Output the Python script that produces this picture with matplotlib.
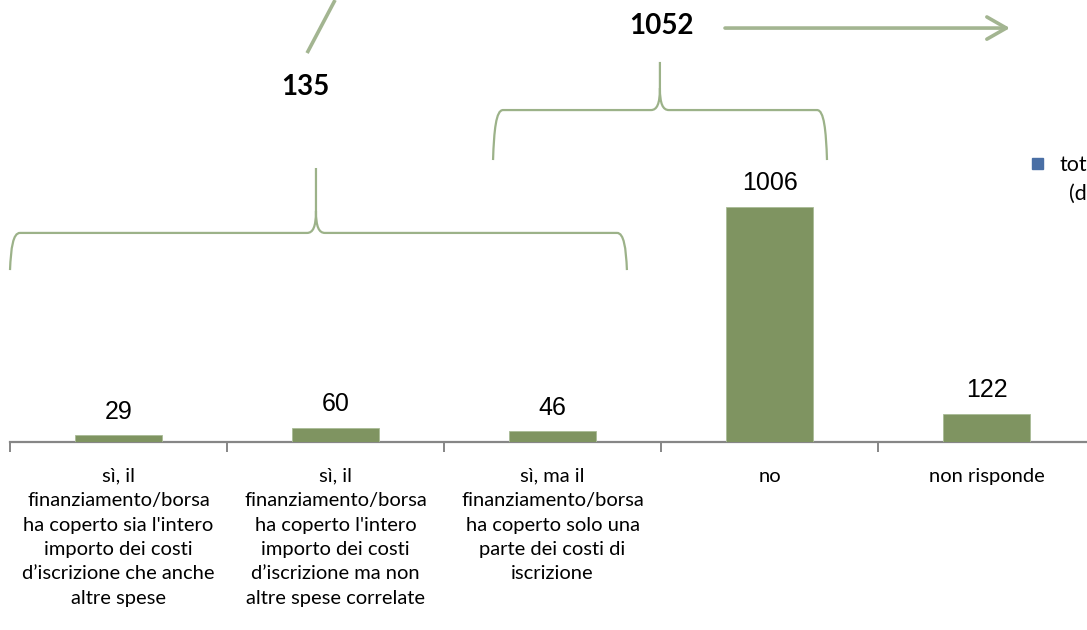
import matplotlib.pyplot as plt
import numpy as np
from matplotlib.path import Path
from matplotlib.patches import PathPatch, Rectangle

categories = ["sì, il\nfinanziamento/borsa\nha coperto sia l'intero\nimporto dei costi\nd’iscrizione che anche\naltre spese",
              "sì, il\nfinanziamento/borsa\nha coperto l'intero\nimporto dei costi\nd’iscrizione ma non\naltre spese correlate",
              "sì, ma il\nfinanziamento/borsa\nha coperto solo una\nparte dei costi di\niscrizione",
              "no",
              "non risponde"]
values = [29, 60, 46, 1006, 122]
group_yes = sum(values[:3])        # 135
group_no = values[3] + values[2]   # 1052 (as in the original chart)
legend_label = ["totale", "(dati"]

bar_col = "#7F9461"
deco_col = "#9CB289"
axis_col = "#868686"

fig = plt.figure(figsize=(10.87, 6.30), dpi=100)
# axis: 5 categories, 217 px each, starting at x=10 px; base line at y=442 px
ax = fig.add_axes([10 / 1087, 188 / 630, 1085 / 1087, 1200 * 0.2336 / 630])
x = np.arange(len(values))
ax.bar(x, values, width=0.4, color=bar_col, edgecolor="#A9BB97", linewidth=0.6, zorder=3)
ax.set_xlim(-0.5, 4.5)
ax.set_ylim(0, 1200)

for s in ["top", "left", "right"]:
    ax.spines[s].set_visible(False)
ax.spines["bottom"].set_color(axis_col)
ax.spines["bottom"].set_linewidth(1.6)
ax.set_yticks([])
ax.set_xticks(x)
ax.set_xticklabels(categories, fontsize=14.5, family="Lato", linespacing=1.53, va="top")
ax.tick_params(axis="x", which="major", length=0, pad=18.5)
ax.set_xticks(np.arange(-0.5, 5, 1), minor=True)
ax.tick_params(axis="x", which="minor", length=7, width=1.4, color=axis_col, direction="out")

for xi, v in zip(x, values):
    ax.annotate(str(v), (xi, v), xytext=(0, 12), textcoords="offset points",
                ha="center", va="baseline", fontsize=18, family="Liberation Sans")

# braces
kx = 1 / 217.0
ky = 1 / 0.2336


def brace(x0, x1, xt, yb, yh, yt):
    verts = [(x0, yb),
             (x0 + 1 * kx, yb + 0.6 * (yh - yb)), (x0 + 3 * kx, yh), (x0 + 10 * kx, yh),
             (xt - 9 * kx, yh),
             (xt - 3 * kx, yh), (xt, yh + 6 * ky), (xt, yh + 22 * ky),
             (xt, yt),
             (xt, yh + 22 * ky),
             (xt, yh + 6 * ky), (xt + 3 * kx, yh), (xt + 9 * kx, yh),
             (x1 - 10 * kx, yh),
             (x1 - 3 * kx, yh), (x1 - 1 * kx, yb + 0.6 * (yh - yb)), (x1, yb)]
    codes = [Path.MOVETO,
             Path.CURVE4, Path.CURVE4, Path.CURVE4,
             Path.LINETO,
             Path.CURVE4, Path.CURVE4, Path.CURVE4,
             Path.LINETO,
             Path.MOVETO,
             Path.CURVE4, Path.CURVE4, Path.CURVE4,
             Path.LINETO,
             Path.CURVE4, Path.CURVE4, Path.CURVE4]
    ax.add_patch(PathPatch(Path(verts, codes), fill=False, edgecolor=deco_col, lw=1.6, clip_on=False))


brace(-0.5, 2.343, 0.91, 736, 895, 1173)
brace(1.726, 3.265, 2.495, 1207, 1421, 1627)

ax.text(0.86, 1520, str(group_yes), ha="center", va="center", fontsize=20,
        fontweight="bold", family="Lato")
ax.text(2.5, 1781, str(group_no), ha="center", va="center", fontsize=20,
        fontweight="bold", family="Lato")

ax.annotate("", xy=(4.108, 1772), xytext=(2.795, 1772), annotation_clip=False,
            arrowprops=dict(arrowstyle="->,head_length=1.4,head_width=0.8", lw=2.6,
                            color="#A3B591", shrinkA=0, shrinkB=0))
ax.plot([0.998, 0.869], [1892, 1665], color="#A3B591", lw=2.6, clip_on=False,
        solid_capstyle="butt")

# legend (cut by the right edge, as in the original)
fig.patches.append(Rectangle((1032 / 1087, (630 - 169) / 630), 11 / 1087, 11 / 630,
                             transform=fig.transFigure, color="#4A6FA5"))
fig.text(1059 / 1087, (630 - 165) / 630, legend_label[0], ha="left", va="center",
         fontsize=15.5, family="Lato")
fig.text(1069 / 1087, (630 - 194) / 630, legend_label[1], ha="left", va="center",
         fontsize=15.5, family="Lato")

fig.savefig("out.png", dpi=100)
